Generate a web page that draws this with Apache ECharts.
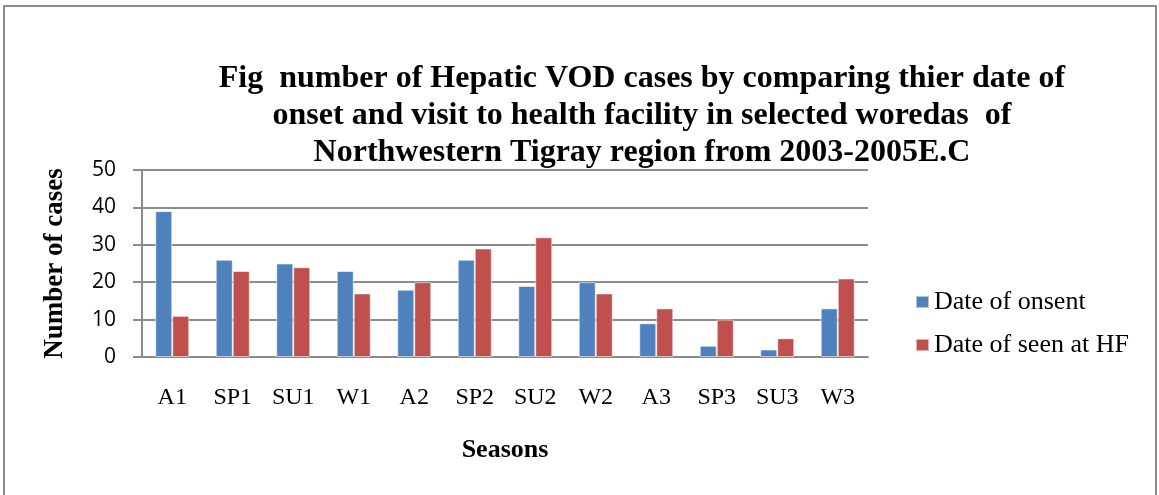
<!DOCTYPE html>
<html>
<head>
<meta charset="utf-8">
<script src="https://cdn.jsdelivr.net/npm/echarts@6/dist/echarts.min.js"></script>
<style>
  html, body { margin: 0; padding: 0; background: #fff; }
  #chart { width: 1159px; height: 495px; }
</style>
</head>
<body>
<div id="chart"></div>
<script>
// Seasons (A = autumn, SP = spring, SU = summer, W = winter), years 1-3
const seasons = ['A1', 'SP1', 'SU1', 'W1', 'A2', 'SP2', 'SU2', 'W2', 'A3', 'SP3', 'SU3', 'W3'];
const onsetCases = [39, 26, 25, 23, 18, 26, 19, 20, 9, 3, 2, 13];
const seenAtHfCases = [11, 23, 24, 17, 20, 29, 32, 17, 13, 10, 5, 21];
const yTicks = { min: 0, max: 50, interval: 10 };

const serif = '"Liberation Serif", "Times New Roman", serif';
const sans = '"Open Sans", "Noto Sans", sans-serif';
const gridGray = '#8c8c8c';

const chart = echarts.init(document.getElementById('chart'), null, { renderer: 'canvas' });

chart.setOption({
  backgroundColor: '#ffffff',
  animation: false,
  title: {
    text: 'Fig  number of Hepatic VOD cases by comparing thier date of\nonset and visit to health facility in selected woredas  of\nNorthwestern Tigray region from 2003-2005E.C',
    left: 637,
    top: 55,
    textAlign: 'center',
    textStyle: {
      fontFamily: serif,
      fontWeight: 'bold',
      fontSize: 32,
      lineHeight: 37,
      color: '#000'
    }
  },
  legend: {
    orient: 'vertical',
    left: 910,
    top: 284,
    itemWidth: 13,
    itemHeight: 12,
    itemGap: 17,
    icon: 'rect',
    textStyle: { fontFamily: serif, fontSize: 26, color: '#000' },
    data: ['Date of onsent', 'Date of seen at HF']
  },
  grid: {
    left: 142,
    right: 291,
    top: 170,
    bottom: 138,
    containLabel: false
  },
  xAxis: {
    type: 'category',
    data: seasons,
    name: 'Seasons',
    nameLocation: 'middle',
    nameGap: 80,
    nameTextStyle: { fontFamily: serif, fontWeight: 'bold', fontSize: 26, color: '#000' },
    axisLine: { show: true, lineStyle: { color: gridGray, width: 2 } },
    axisTick: { show: false },
    axisLabel: { fontFamily: serif, fontSize: 24, color: '#000', margin: 29 }
  },
  yAxis: {
    type: 'value',
    min: yTicks.min,
    max: yTicks.max,
    interval: yTicks.interval,
    name: 'Number of cases',
    nameLocation: 'middle',
    nameGap: 73,
    nameRotate: 90,
    nameTextStyle: { fontFamily: serif, fontWeight: 'bold', fontSize: 27, color: '#000', padding: [0, 0, 0, 0] },
    axisLine: { show: true, lineStyle: { color: gridGray, width: 2 } },
    axisTick: { show: true, length: 9, lineStyle: { color: gridGray, width: 2 } },
    axisLabel: { fontFamily: sans, fontSize: 21, color: '#000', margin: 26 },
    splitLine: { show: true, lineStyle: { color: gridGray, width: 2 } }
  },
  series: [
    {
      name: 'Date of onsent',
      type: 'bar',
      data: onsetCases,
      barWidth: 17,
      barGap: '0%',
      itemStyle: { color: '#4F81BD', borderColor: 'rgba(255,255,255,0.55)', borderWidth: 1 }
    },
    {
      name: 'Date of seen at HF',
      type: 'bar',
      data: seenAtHfCases,
      barWidth: 17,
      barGap: '0%',
      itemStyle: { color: '#C0504D', borderColor: 'rgba(255,255,255,0.55)', borderWidth: 1 }
    }
  ],
  graphic: [
    {
      type: 'polyline',
      shape: { points: [[4, 495], [4, 6], [1156, 6], [1156, 495]] },
      style: { stroke: '#8c8c8c', lineWidth: 2, fill: null },
      silent: true
    }
  ]
});
</script>
</body>
</html>
